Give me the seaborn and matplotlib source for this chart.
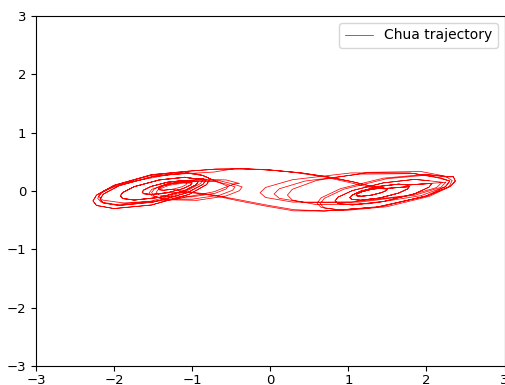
import matplotlib
matplotlib.use("Agg")
import matplotlib.pyplot as plt
import numpy as np
import pandas as pd
import seaborn as sns

# Path pieces, in drawing order (x, y in data units).
# Each loop is traced clockwise from its right tip.

# left scroll
left_1_x = [-1.07, -1.081, -1.134, -1.25, -1.366, -1.419, -1.43, -1.419, -1.366, -1.25, -1.134, -1.081]
left_1_y = [0.125, 0.105, 0.071, 0.03, 0.013, 0.021, 0.035, 0.055, 0.089, 0.13, 0.147, 0.139]
left_2_x = [-1.00, -1.019, -1.114, -1.32, -1.526, -1.621, -1.64, -1.621, -1.526, -1.32, -1.114, -1.019]
left_2_y = [0.14, 0.104, 0.042, -0.03, -0.06, -0.046, -0.02, 0.016, 0.078, 0.15, 0.18, 0.166]
left_3_x = [-0.92, -0.95, -1.098, -1.42, -1.742, -1.89, -1.92, -1.89, -1.742, -1.42, -1.098, -0.95]
left_3_y = [0.165, 0.107, 0.005, -0.11, -0.155, -0.129, -0.085, -0.027, 0.075, 0.19, 0.235, 0.209]
left_4_x = [-0.82, -0.861, -1.063, -1.5, -1.937, -2.139, -2.18, -2.139, -1.937, -1.5, -1.063, -0.861]
left_4_y = [0.20, 0.115, -0.03, -0.19, -0.248, -0.205, -0.14, -0.055, 0.09, 0.25, 0.308, 0.265]
left_4b_x = [-0.85, -0.891, -1.093, -1.53, -1.967, -2.169, -2.21, -2.169, -1.967, -1.53, -1.093, -0.891]
left_4b_y = [0.215, 0.13, -0.015, -0.175, -0.233, -0.19, -0.125, -0.04, 0.105, 0.265, 0.323, 0.28]
left_5_x = [-0.77, -0.815, -1.038, -1.52, -2.002, -2.225, -2.27, -2.225, -2.002, -1.52, -1.038]
left_5_y = [0.21, 0.11, -0.057, -0.24, -0.301, -0.248, -0.17, -0.07, 0.097, 0.28, 0.341]
left_6_x = [-0.454, -0.721, -1.3, -1.879, -2.146, -2.2, -2.146, -1.879, -1.3, -0.721]
left_6_y = [0.126, -0.013, -0.16, -0.205, -0.156, -0.09, -0.006, 0.133, 0.28, 0.325]

# thin loops reaching toward the middle on the left
left_mid_1_x = [-0.45, -0.483, -0.646, -1.0, -1.354, -1.517, -1.55, -1.517, -1.354, -1.0, -0.646, -0.483]
left_mid_1_y = [0.07, 0.012, -0.071, -0.14, -0.135, -0.082, -0.03, 0.028, 0.111, 0.18, 0.175, 0.122]
left_mid_2_x = [-0.54, -0.568, -0.704, -1.0, -1.296, -1.432, -1.46, -1.432, -1.296, -1.0, -0.704, -0.568]
left_mid_2_y = [0.08, 0.033, -0.038, -0.10, -0.102, -0.061, -0.02, 0.027, 0.098, 0.16, 0.162, 0.121]
left_mid_3_x = [-0.36, -0.395, -0.567, -0.94, -1.313, -1.485, -1.52, -1.485, -1.313, -0.94, -0.567, -0.395]
left_mid_3_y = [0.07, 0.005, -0.086, -0.16, -0.15, -0.089, -0.03, 0.035, 0.126, 0.20, 0.19, 0.129]

# right scroll
right_1_x = [1.50, 1.488, 1.429, 1.30, 1.171, 1.112, 1.10, 1.112, 1.171, 1.30, 1.429, 1.488]
right_1_y = [0.03, 0.01, -0.026, -0.07, -0.09, -0.084, -0.07, -0.05, -0.014, 0.03, 0.05, 0.044]
right_2_x = [1.78, 1.757, 1.644, 1.40, 1.156, 1.043, 1.02, 1.043, 1.156, 1.40, 1.644, 1.757]
right_2_y = [0.075, 0.035, -0.036, -0.12, -0.158, -0.143, -0.115, -0.075, -0.004, 0.08, 0.118, 0.103]
right_3_x = [2.07, 2.033, 1.849, 1.45, 1.051, 0.867, 0.83, 0.867, 1.051, 1.45, 1.849, 2.033]
right_3_y = [0.13, 0.066, -0.047, -0.18, -0.239, -0.216, -0.17, -0.106, 0.007, 0.14, 0.199, 0.176]
right_4_x = [2.30, 2.249, 1.997, 1.45, 0.903, 0.651, 0.60, 0.651, 0.903, 1.45, 1.997, 2.249]
right_4_y = [0.17, 0.077, -0.082, -0.26, -0.326, -0.281, -0.21, -0.117, 0.042, 0.22, 0.286, 0.241]
right_4b_x = [2.33, 2.289, 2.037, 1.49, 0.943, 0.691, 0.64, 0.691, 0.943, 1.49, 2.037, 2.289]
right_4b_y = [0.18, 0.067, -0.092, -0.27, -0.336, -0.291, -0.22, -0.127, 0.032, 0.21, 0.276, 0.245]
right_5_x = [2.345, 2.37, 2.309, 2.006, 1.35, 0.694]
right_5_y = [0.245, 0.17, 0.082, -0.085, -0.28, -0.343]

# loops of the right scroll reaching toward the middle
right_mid_1_x = [2.20, 2.13, 1.784, 1.035, 0.286, -0.06, -0.13, -0.06, 0.286, 1.035, 1.784, 2.13]
right_mid_1_y = [0.15, 0.059, -0.074, -0.19, -0.19, -0.111, -0.03, 0.061, 0.194, 0.31, 0.31, 0.231]
right_mid_2_x = [2.25, 2.184, 1.857, 1.15, 0.443, 0.116, 0.05, 0.116, 0.443, 1.15, 1.857, 2.184]
right_mid_2_y = [0.15, 0.062, -0.07, -0.19, -0.198, -0.126, -0.05, 0.038, 0.17, 0.29, 0.298, 0.226]
right_mid_3_x = [2.30, 2.238, 1.929, 1.26, 0.591, 0.282, 0.22, 0.282, 0.591, 1.26, 1.929, 2.238]
right_mid_3_y = [0.17, 0.071, -0.08, -0.22, -0.234, -0.155, -0.07, 0.029, 0.18, 0.32, 0.334, 0.255]

# crossings between the two scrolls
top_band_1_x = [-0.7, -0.35, 0.0, 0.4, 0.75, 1.05, 1.3, 1.45]
top_band_1_y = [0.375, 0.38, 0.36, 0.31, 0.24, 0.16, 0.08, 0.05]
top_band_2_x = [-0.45, -0.1, 0.3, 0.7, 1.0, 1.25, 1.42]
top_band_2_y = [0.385, 0.37, 0.32, 0.24, 0.15, 0.07, 0.04]
bottom_band_x = [0.3, -0.05, -0.4, -0.72, -1.0]
bottom_band_1_y = [-0.32, -0.24, -0.15, -0.07, -0.02]
bottom_band_2_y = [-0.34, -0.26, -0.17, -0.08, -0.03]

pieces = [
    (left_1_x, left_1_y), (left_2_x, left_2_y), (left_3_x, left_3_y),
    (left_4_x, left_4_y), (left_5_x, left_5_y),
    (top_band_1_x, top_band_1_y),
    (right_1_x, right_1_y), (right_2_x, right_2_y), (right_3_x, right_3_y),
    (right_mid_1_x, right_mid_1_y), (right_4_x, right_4_y), (right_5_x, right_5_y),
    (bottom_band_x, bottom_band_1_y),
    (left_2_x[3:], left_2_y[3:]), (left_3_x, left_3_y), (left_4b_x, left_4b_y),
    (left_mid_2_x, left_mid_2_y), (left_mid_1_x, left_mid_1_y),
    (left_mid_3_x, left_mid_3_y), (left_6_x, left_6_y),
    (top_band_2_x, top_band_2_y),
    (right_1_x, right_1_y), (right_2_x, right_2_y), (right_mid_2_x, right_mid_2_y),
    (right_mid_3_x, right_mid_3_y), (right_4b_x, right_4b_y), (right_5_x, right_5_y),
    (bottom_band_x, bottom_band_2_y),
    (left_1_x[3:], left_1_y[3:]), (left_2_x, left_2_y), (left_3_x, left_3_y),
    (left_4_x, left_4_y), (left_5_x, left_5_y),
    (top_band_1_x, top_band_1_y),
    (right_1_x, right_1_y), (right_2_x, right_2_y), (right_3_x, right_3_y),
]

xs = np.concatenate([p[0] for p in pieces])
ys = np.concatenate([p[1] for p in pieces])
df = pd.DataFrame({"x": xs, "y": ys})

fig = plt.figure(figsize=(5.05, 3.85), dpi=100)
ax = fig.add_axes([36 / 505, 19 / 385, 468.5 / 505, 350 / 385])

sns.lineplot(data=df, x="x", y="y", sort=False, estimator=None,
             color="red", linewidth=0.55, label="Chua trajectory", ax=ax)

ax.set_xlim(-3, 3)
ax.set_ylim(-3, 3)
ax.set_xlabel("")
ax.set_ylabel("")
ax.tick_params(axis="x", pad=2.5, labelsize=9.5)
ax.tick_params(axis="y", labelsize=9.5)
ax.legend(loc="upper right")

fig.savefig("out.png", dpi=100)
